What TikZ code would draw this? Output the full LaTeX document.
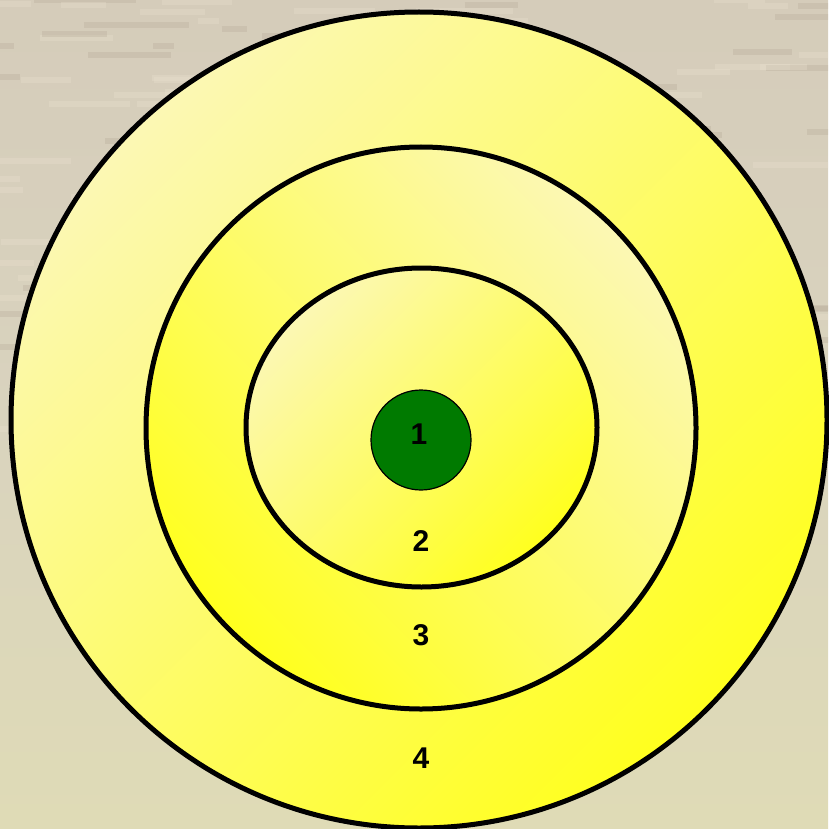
\documentclass[tikz,border=0pt]{standalone}
\usepackage{fontspec}
\setmainfont{Liberation Sans}
\definecolor{bgtop}{RGB}{213,204,186}
\definecolor{bgmid}{RGB}{217,211,190}
\definecolor{bgbot}{RGB}{223,219,182}
\definecolor{texlight}{RGB}{236,226,208}
\definecolor{texdark}{RGB}{180,168,150}
\definecolor{pale}{RGB}{252,248,180}
\definecolor{bright}{RGB}{255,255,30}
\definecolor{targetgreen}{RGB}{0,122,0}
\tikzset{
  ringbase/.style={draw=black,line width=5pt,top color=pale,bottom color=bright},
  ringA/.style={ringbase,shading angle=45},
  ringB/.style={ringbase,shading angle=-45},
  lbl/.style={font=\bfseries\fontsize{30}{30}\selectfont,inner sep=0pt},
  texstroke/.style={line width=6pt,opacity=0.3}
}
\begin{document}
\begin{tikzpicture}[x=1pt,y=-1pt]
\useasboundingbox (0,0) rectangle (828,829);
% background
\shade[top color=bgtop,bottom color=bgbot,middle color=bgmid] (0,0) rectangle (828,829);
\begin{scope}
  \clip (0,0) rectangle (828,475);
  \pgfmathsetseed{11}
  \foreach \i in {1,...,220} {
    \pgfmathsetmacro{\yy}{rnd*470}
    \pgfmathsetmacro{\xx}{rnd*840-20}
    \pgfmathsetmacro{\ll}{20+rnd*90}
    \pgfmathsetmacro{\cc}{rnd}
    \ifdim\cc pt<0.5pt
      \draw[texstroke,texlight] (\xx,\yy) -- ++(\ll,0);
    \else
      \draw[texstroke,texdark] (\xx,\yy) -- ++(\ll,0);
    \fi
  }
\end{scope}
% target
\path[ringA] (419,420) circle[radius=408];
\path[ringB] (421,428) ellipse[x radius=275,y radius=281];
\path[ringA] (421.5,427.5) ellipse[x radius=175.5,y radius=159.5];
\node[circle,draw=black,line width=1.2pt,fill=targetgreen,minimum size=100pt,inner sep=0pt] (bull) at (421,440) {};
\node[lbl] (l1) at (419,434) {1};
\node[lbl] (l2) at (421,541.5) {2};
\node[lbl] (l3) at (421,635) {3};
\node[lbl] (l4) at (421,758) {4};
\end{tikzpicture}
\end{document}
